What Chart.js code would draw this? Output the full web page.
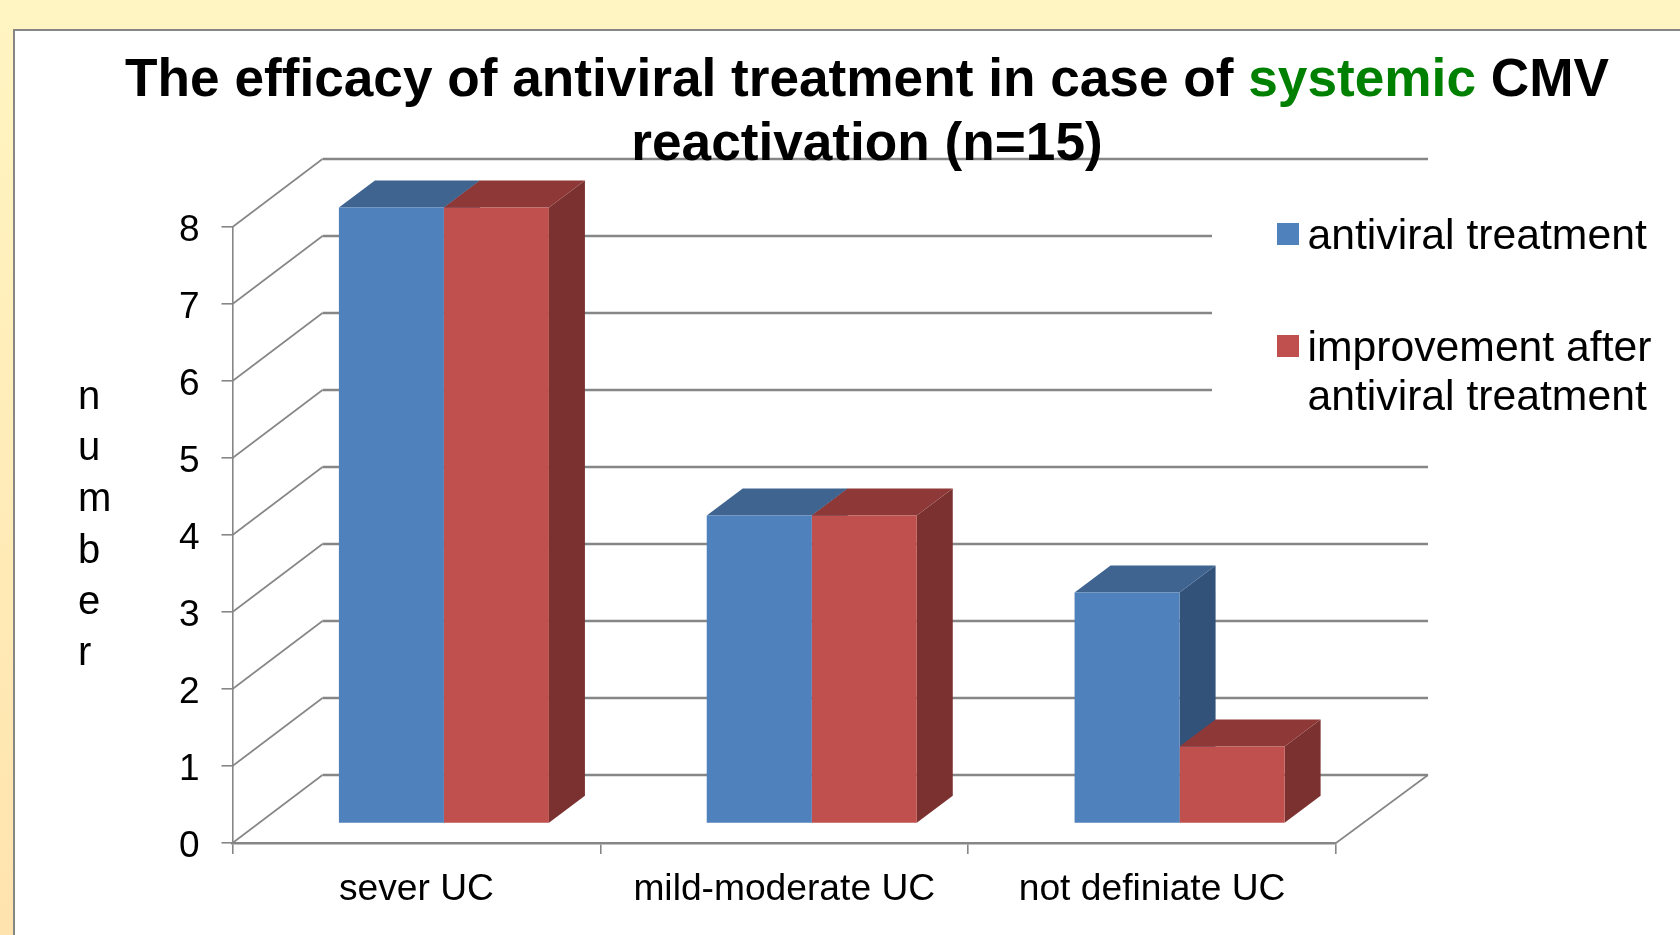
<!DOCTYPE html>
<html>
<head>
<meta charset="utf-8">
<title>CMV chart</title>
<script src="https://cdn.jsdelivr.net/npm/chart.js@4"></script>
<style>
  html, body { margin: 0; height: 100%; overflow: hidden; }
  body { background: linear-gradient(to bottom, #FFF5C2 0%, #FFE3AE 100%); }
  #frame { position: absolute; left: 13px; top: 29px; width: 1680px; height: 920px; background: #fff; border: 2px solid #868686; }
  #barChart { position: absolute; left: 0; top: 0; }
</style>
</head>
<body>
<div id="frame"></div>
<canvas id="barChart" width="1680" height="935"></canvas>
<script>
const categories = ['sever UC', 'mild-moderate UC', 'not definiate UC'];
const antiviralValues = [8, 4, 3];
const improvementValues = [8, 4, 1];
const seriesNames = ['antiviral treatment', ['improvement after', 'antiviral treatment']];
const yTicks = [0, 1, 2, 3, 4, 5, 6, 7, 8];
const yTitle = 'number'.split('');
const titleLine1 = [['The efficacy of antiviral treatment in case of ', '#000'], ['systemic', '#008000'], [' CMV', '#000']];
const titleLine2 = 'reactivation (n=15)';

const FONT = '"Liberation Sans", Arial, sans-serif';
const GRID = '#868686';
// wall depth of the fake 3d box, and how far the bars sit inside it
const wallX = 90, wallY = 68;
const barX = 27.5, barY = 19.5;
const sideX = 36, sideY = 27;

const colors = [
  { front: '#4F81BD', top: '#3F6490', side: '#32527A' },
  { front: '#C0504D', top: '#8E3937', side: '#7B3130' }
];

function poly(ctx, pts, fill) {
  ctx.fillStyle = fill;
  ctx.beginPath();
  pts.forEach((p, i) => { i ? ctx.lineTo(p[0], p[1]) : ctx.moveTo(p[0], p[1]) });
  ctx.closePath();
  ctx.fill();
}

const box3d = {
  id: 'box3d',
  beforeDatasetsDraw(chart) {
    const ctx = chart.ctx, y = chart.scales.y, a = chart.chartArea;
    ctx.save();
    ctx.strokeStyle = GRID;
    yTicks.forEach(v => {
      const py = y.getPixelForValue(v);
      ctx.lineWidth = 1.6;
      ctx.beginPath();
      ctx.moveTo(a.left, py);
      ctx.lineTo(a.left + wallX, py - wallY);
      ctx.stroke();
      ctx.lineWidth = 2.6;
      ctx.beginPath();
      ctx.moveTo(a.left + wallX, py - wallY);
      ctx.lineTo(a.right + wallX + 2, py - wallY);
      ctx.stroke();
    });
    // floor edge on the right
    ctx.lineWidth = 1.6;
    ctx.beginPath();
    ctx.moveTo(a.right, a.bottom);
    ctx.lineTo(a.right + wallX + 2, a.bottom - wallY);
    ctx.stroke();
    ctx.restore();
    drawLegend(chart);

    // side and top faces first, blue then red, the front faces come after
    ctx.save();
    ctx.translate(barX, -barY);
    chart.data.datasets.forEach((ds, i) => {
      chart.getDatasetMeta(i).data.forEach(bar => {
        const l = bar.x - bar.width / 2, r = bar.x + bar.width / 2;
        poly(ctx, [[r, bar.y], [r + sideX, bar.y - sideY], [r + sideX, bar.base - sideY], [r, bar.base]], colors[i].side);
        poly(ctx, [[l, bar.y], [l + sideX, bar.y - sideY], [r + sideX, bar.y - sideY], [r, bar.y]], colors[i].top);
      });
    });
    ctx.restore();
  },
  beforeDatasetDraw(chart) {
    chart.ctx.save();
    chart.ctx.translate(barX, -barY);
  },
  afterDatasetDraw(chart) {
    chart.ctx.restore();
  },
  afterDraw(chart) {
    const ctx = chart.ctx;
    ctx.save();
    ctx.textBaseline = 'alphabetic';
    // title, one word is green so it goes piece by piece
    ctx.font = 'bold 53.2px ' + FONT;
    ctx.textAlign = 'left';
    const w = titleLine1.reduce((s, p) => s + ctx.measureText(p[0]).width, 0);
    let x = 867 - w / 2;
    titleLine1.forEach(p => {
      ctx.fillStyle = p[1];
      ctx.fillText(p[0], x, 96);
      x += ctx.measureText(p[0]).width;
    });
    ctx.fillStyle = '#000';
    ctx.fillText(titleLine2, 867 - ctx.measureText(titleLine2).width / 2, 160);
    // axis title stacked letter by letter, left aligned
    ctx.font = '40px ' + FONT;
    ctx.textBaseline = 'middle';
    yTitle.forEach((ch, i) => ctx.fillText(ch, 78, 398 + i * 51.2));
    ctx.restore();
  }
};

function drawLegend(chart) {
  const ctx = chart.ctx;
  ctx.save();
  ctx.fillStyle = '#fff';
  ctx.fillRect(1212, 205, 468, 235);
  ctx.font = '42.7px ' + FONT;
  ctx.textAlign = 'left';
  ctx.textBaseline = 'middle';
  let rows = [234, 346];
  chart.data.datasets.forEach((ds, i) => {
    ctx.fillStyle = ds.backgroundColor;
    ctx.fillRect(1277, rows[i] - 11, 22, 22);
    ctx.fillStyle = '#000';
    [].concat(seriesNames[i]).forEach((line, k) => ctx.fillText(line, 1307.5, rows[i] + 3 + k * 49));
  });
  ctx.restore();
}

new Chart('barChart', {
  type: 'bar',
  data: {
    labels: categories,
    datasets: [
      { label: 'antiviral treatment', data: antiviralValues, backgroundColor: colors[0].front, clip: false },
      { label: 'improvement after antiviral treatment', data: improvementValues, backgroundColor: colors[1].front, clip: false }
    ]
  },
  plugins: [box3d],
  options: {
    responsive: false,
    animation: false,
    layout: { padding: { top: 227, right: 344, left: 0, bottom: 0 } },
    categoryPercentage: 0.571,
    barPercentage: 1,
    plugins: { legend: { display: false }, title: { display: false }, tooltip: { enabled: false } },
    scales: {
      x: {
        afterFit(s) { s.height = 92 },
        grid: { offset: true, drawOnChartArea: false, color: GRID, lineWidth: 1.6, tickLength: 11 },
        border: { color: GRID, width: 2.6 },
        ticks: { color: '#000', font: { family: FONT, size: 37.2 }, padding: 13, maxRotation: 0 }
      },
      y: {
        min: 0,
        max: 8,
        afterFit(s) { s.width = 232.5 },
        grid: { drawOnChartArea: false, color: GRID, lineWidth: 1.6, tickLength: 11 },
        border: { color: GRID, width: 1.6 },
        ticks: { stepSize: 1, color: '#000', font: { family: FONT, size: 37 }, padding: 22, labelOffset: 3.5 }
      }
    }
  }
});
</script>
</body>
</html>
